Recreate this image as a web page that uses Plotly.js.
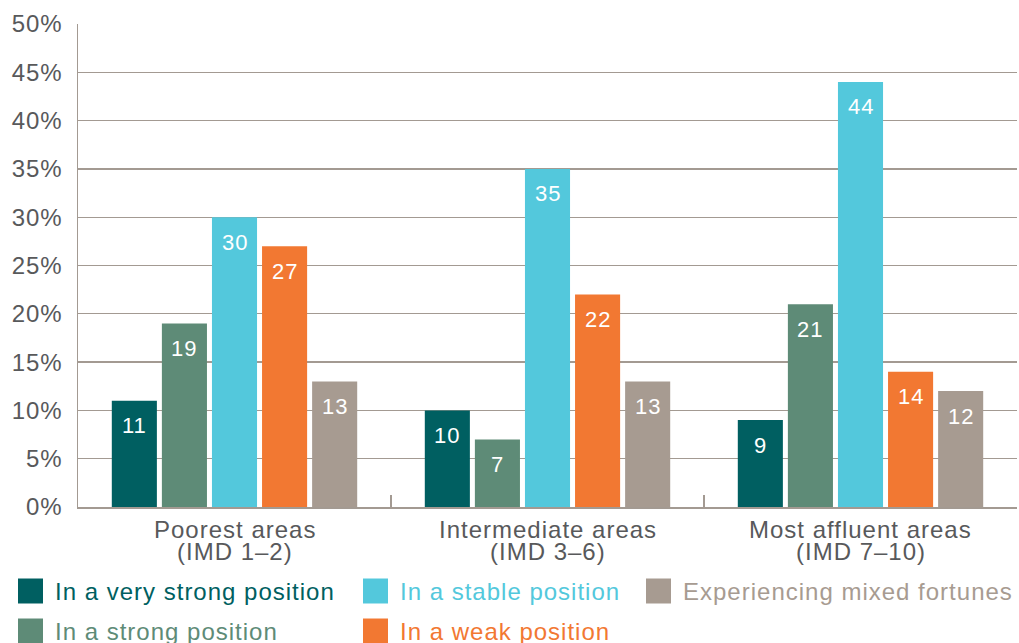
<!DOCTYPE html>
<html>
<head>
<meta charset="utf-8">
<script src="https://cdn.plot.ly/plotly-3.0.1.min.js"></script>
<style>
html,body{margin:0;padding:0;background:#fff;}
text { letter-spacing: 1px; }
</style>
</head>
<body>
<div id="chart" style="width:1019px;height:643px;"></div>
<script>
// ---- data ----
const categories = ["Poorest areas (IMD 1–2)", "Intermediate areas (IMD 3–6)", "Most affluent areas (IMD 7–10)"];
const catLine1 = ["Poorest areas", "Intermediate areas", "Most affluent areas"];
const catLine2 = ["(IMD 1–2)", "(IMD 3–6)", "(IMD 7–10)"];
const seriesNames = ["In a very strong position", "In a strong position", "In a stable position", "In a weak position", "Experiencing mixed fortunes"];
const veryStrong = [11, 10, 9];
const strong = [19, 7, 21];
const stable = [30, 35, 44];
const weak = [27, 22, 14];
const mixed = [13, 13, 12];
const seriesValues = [veryStrong, strong, stable, weak, mixed];
const colors = ["#005f61", "#5e8b77", "#53c8dc", "#f27832", "#a79b91"];
const yTickVals = [0, 5, 10, 15, 20, 25, 30, 35, 40, 45, 50];
const yTickText = ["0%", "5%", "10%", "15%", "20%", "25%", "30%", "35%", "40%", "45%", "50%"];

// ---- layout geometry ----
const W = 1019, H = 643;
const M = {l: 78, r: 2, t: 24, b: 136};
const pw = W - M.l - M.r, ph = H - M.t - M.b;
const px2x = p => (p - M.l) / pw;
const py2y = p => (H - M.b - p) / ph;
const bargap = 0.2, bargroupgap = 0.1;
const FONT = "Liberation Sans, Arial, Helvetica, sans-serif";
const gridColor = "#a39a92";
const textColor = "#58595b";

const traces = seriesNames.map((n, i) => ({
  type: "bar",
  name: n,
  x: categories,
  y: seriesValues[i],
  marker: {color: colors[i], line: {width: 0}},
  hoverinfo: "name+y",
  showlegend: false
}));

const annotations = [];
const slot = (1 - bargap) / seriesNames.length;
seriesValues.forEach((vals, i) => {
  vals.forEach((v, c) => {
    annotations.push({
      x: c + (i - (seriesNames.length - 1) / 2) * slot,
      y: v, xref: "x", yref: "y",
      text: String(v), showarrow: false,
      yanchor: "middle", yshift: -25,
      font: {family: FONT, size: 22, color: "#ffffff"}
    });
  });
});
// category labels (two lines, tight spacing as in the reference)
categories.forEach((c, k) => {
  annotations.push({x: k, y: py2y(529), xref: "x", yref: "paper", text: catLine1[k], showarrow: false,
    yanchor: "middle", font: {family: FONT, size: 24, color: textColor}});
  annotations.push({x: k, y: py2y(551), xref: "x", yref: "paper", text: catLine2[k], showarrow: false,
    yanchor: "middle", font: {family: FONT, size: 24, color: textColor}});
});

// manual legend: positions of each series' key
const legendPos = [
  {sx: 18, ty: 591},  // very strong
  {sx: 18, ty: 631},  // strong
  {sx: 363, ty: 591}, // stable
  {sx: 363, ty: 631}, // weak
  {sx: 646, ty: 591}  // mixed
];
const shapes = [];
seriesNames.forEach((n, i) => {
  const p = legendPos[i];
  shapes.push({type: "rect", xref: "paper", yref: "paper",
    x0: px2x(p.sx), x1: px2x(p.sx + 25), y0: py2y(p.ty - 12.5), y1: py2y(p.ty + 12.5),
    fillcolor: colors[i], line: {width: 0}});
  annotations.push({x: px2x(p.sx + 35), y: py2y(p.ty), xref: "paper", yref: "paper",
    xanchor: "left", yanchor: "middle", text: n, showarrow: false,
    font: {family: FONT, size: 24, color: colors[i]}});
});

const layout = {
  width: W, height: H,
  margin: M,
  paper_bgcolor: "#ffffff", plot_bgcolor: "#ffffff",
  barmode: "group", bargap: bargap, bargroupgap: bargroupgap,
  showlegend: false,
  font: {family: FONT, size: 24, color: textColor},
  xaxis: {
    type: "category",
    showticklabels: false,
    showline: true, linecolor: gridColor, linewidth: 2,
    ticks: "inside", tickson: "boundaries", ticklen: 12, tickcolor: gridColor, tickwidth: 1.5,
    showgrid: false, fixedrange: true
  },
  yaxis: {
    range: [0, 50],
    tickvals: yTickVals, ticktext: yTickText,
    showgrid: true, gridcolor: gridColor, gridwidth: 1.3,
    zeroline: false,
    showline: true, linecolor: gridColor, linewidth: 1.5,
    ticks: "", ticklabelstandoff: 9,
    tickfont: {family: FONT, size: 24, color: textColor},
    fixedrange: true
  },
  annotations: annotations,
  shapes: shapes
};

Plotly.newPlot("chart", traces, layout, {displayModeBar: false, staticPlot: true});
</script>
</body>
</html>
